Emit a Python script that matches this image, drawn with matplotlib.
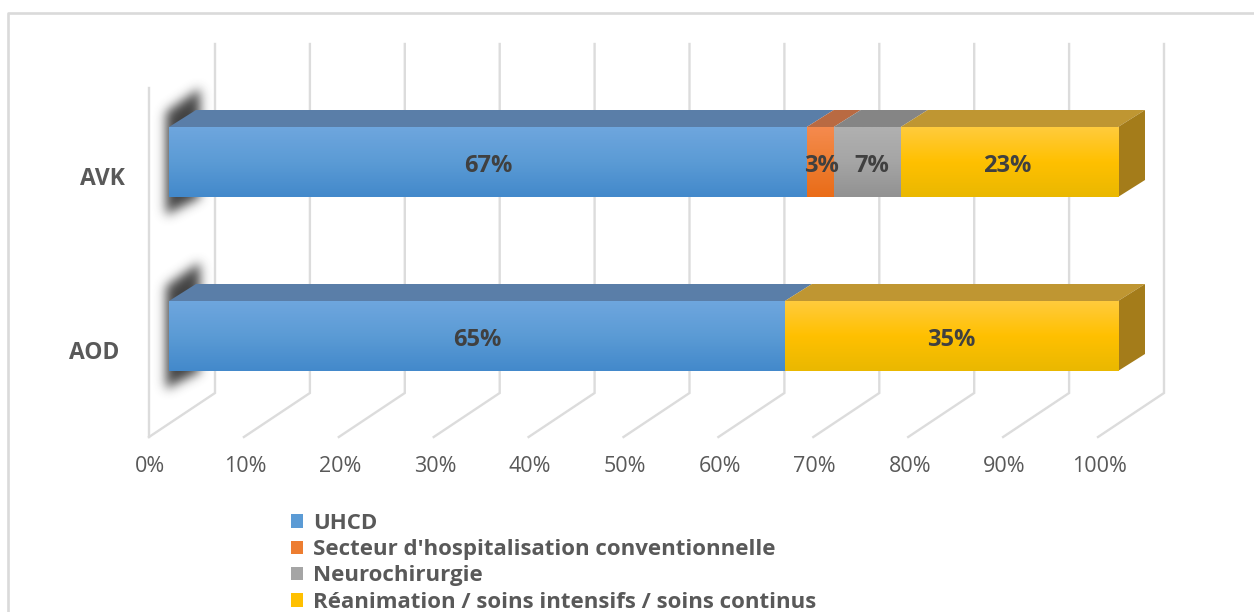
import numpy as np
import matplotlib
matplotlib.use("Agg")
import matplotlib.pyplot as plt
from matplotlib.colors import LinearSegmentedColormap
from matplotlib.patches import Patch, Polygon
from matplotlib.path import Path

# data
categories = ["AOD", "AVK"]
series_names = ["UHCD", "Secteur d'hospitalisation conventionnelle", "Neurochirurgie",
                "Réanimation / soins intensifs / soins continus"]
uhcd = [65, 67]
secteur = [0, 3]
neuro = [0, 7]
reanimation = [35, 23]
drawn_width = [[64.9, 67.2], [0, 2.85], [0, 7.05], [35.1, 22.9]]
ticks = list(range(0, 101, 10))

# colours per series: gradient top, middle, bottom, top face, side face
styles = [
    ("#6ea6de", "#5b9bd5", "#4389cb", "#5a7ea8", "#4a6d94"),
    ("#f58a4e", "#ed7d31", "#ea6c18", "#b96a42", "#a5602f"),
    ("#b0b0b0", "#a5a5a5", "#929292", "#858585", "#777777"),
    ("#ffcb3c", "#ffc000", "#eab800", "#bf9632", "#a47c1a"),
]
GRID = "#dcdcdc"
TEXT = "#595959"
LABEL = "#404040"

W, H = 1254, 612
X0 = 169.0   # pixel of 0% on the front of the bars
PX = 9.49    # pixels for one percent
ROW = 174.0  # pixels between the two categories

fig = plt.figure(figsize=(W / 100, H / 100), dpi=100, facecolor="white")
ax = fig.add_axes([0, 0, 1, 1])
ax.axis("off")
plt.rcParams["font.family"] = ["Open Sans", "DejaVu Sans"]

# 3d offsets, in data units
dx = 27 / PX
dy = 17 / ROW
half = 35 / ROW
wall_dx = 46 / PX
floor_dx = -20 / PX
floor_y = -(437 - 336) / ROW
back_y = -(393 - 336) / ROW
top_y = (336 - 44) / ROW
left_top_y = (336 - 88) / ROW

# frame of the picture
ax.plot([(7.5 - X0) / PX, (7.5 - X0) / PX, 2000], [-5, 323 / ROW, 323 / ROW], color="#dadada", lw=1.9, zorder=1)

# walls and floor
for t in ticks:
    ax.plot([t + floor_dx, t + wall_dx, t + wall_dx], [floor_y, back_y, top_y], color=GRID, lw=1.7, zorder=2,
            solid_joinstyle="miter")
ax.plot([floor_dx, floor_dx], [floor_y, left_top_y], color=GRID, lw=1.7, zorder=2)


def blur(a, sigma):
    r = int(sigma * 3)
    k = np.exp(-0.5 * (np.arange(-r, r + 1) / sigma) ** 2)
    k /= k.sum()
    a = np.apply_along_axis(lambda m: np.convolve(m, k, mode="same"), 0, a)
    return np.apply_along_axis(lambda m: np.convolve(m, k, mode="same"), 1, a)


def bar_shadow(y):
    # soft shadow thrown by the bar on the left wall
    pts = [(-3 / PX, y + 50 / ROW), (31 / PX, y + 74 / ROW), (31 / PX, y - 36 / ROW), (-3 / PX, y - 53 / ROW)]
    x0, x1 = -30 / PX, 60 / PX
    y0, y1 = y - 85 / ROW, y + 100 / ROW
    gx, gy = np.meshgrid(np.linspace(x0, x1, 90), np.linspace(y0, y1, 185))
    inside = Path(pts).contains_points(np.c_[gx.ravel(), gy.ravel()]).reshape(gx.shape).astype(float)
    rgba = np.zeros(gx.shape + (4,))
    rgba[..., :3] = 0.22
    rgba[..., 3] = blur(inside, 5.5) * 0.95
    ax.imshow(rgba, origin="lower", aspect="auto", extent=(x0, x1, y0, y1), zorder=3, interpolation="bilinear")


def gradient_bar(x0, x1, y, style):
    top, mid, bottom, top_face, side_face = style
    cmap = LinearSegmentedColormap.from_list("g", [bottom, mid, top])
    ax.imshow(np.linspace(0, 1, 64)[:, None], origin="lower", cmap=cmap, aspect="auto", zorder=6,
              extent=(x0, x1, y - half, y + half))
    ax.add_patch(Polygon([(x0, y + half), (x0 + dx, y + half + dy), (x1 + dx, y + half + dy), (x1, y + half)],
                         closed=True, facecolor=top_face, edgecolor="none", zorder=5))
    return side_face


# small nudges of the value labels, in pixels
label_nudge = {3: 1.5, 7: 5, 23: -2}

for row, name in enumerate(categories):
    bar_shadow(row)
    left = 0.0
    values = [uhcd[row], secteur[row], neuro[row], reanimation[row]]
    side = None
    for k, val in enumerate(values):
        if val == 0:
            continue
        width = drawn_width[k][row]
        side = gradient_bar(left, left + width, row, styles[k])
        ax.text(left + width / 2 + label_nudge.get(val, 0) / PX, row - 4 / ROW, f"{val}%", ha="center", va="center",
                fontsize=17, fontweight="bold", color=LABEL, zorder=8)
        left += width
    ax.add_patch(Polygon([(100, row - half), (100 + dx, row - half + dy), (100 + dx, row + half + dy), (100, row + half)],
                         closed=True, facecolor=side, edgecolor="none", zorder=5))
    ax.text((125 - X0 - (6 if row == 0 else 0)) / PX, row - 17 / ROW, name, ha="right", va="center",
            fontsize=16.5, fontweight="bold", color=TEXT, zorder=8)

ax.set_xlim(-X0 / PX, (W - X0) / PX)
ax.set_ylim(-(H - 336) / ROW, 336 / ROW)

for t in ticks:
    ax.text(t + floor_dx + 1.5 / PX, -(466 - 336) / ROW, f"{t}%", ha="center", va="center", fontsize=15.5, color=TEXT)

handles = [Patch(facecolor=s[1], edgecolor="none") for s in styles]
leg = ax.legend(handles, series_names, loc="upper left", bbox_to_anchor=(273 / W, 1 - 495 / H),
                bbox_transform=fig.transFigure, frameon=False, ncol=1, prop={"size": 16, "weight": "bold"},
                handlelength=0.54, handleheight=0.54, handletextpad=0.45, labelspacing=0.24, borderpad=0.3)
for txt in leg.get_texts():
    txt.set_color(TEXT)

fig.savefig("out.png", dpi=100)
